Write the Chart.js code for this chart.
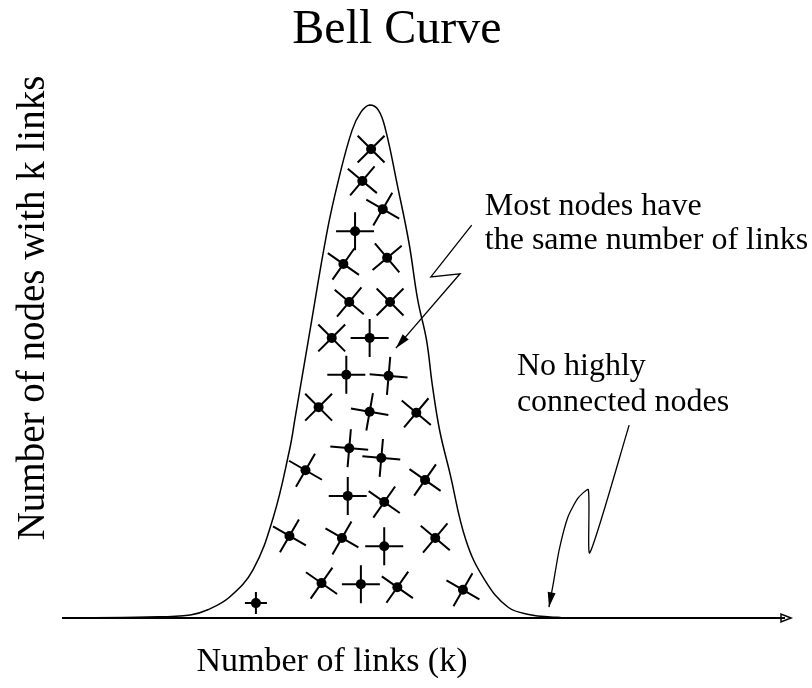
<!DOCTYPE html>
<html>
<head>
<meta charset="utf-8">
<title>Bell Curve</title>
<script src="https://cdn.jsdelivr.net/npm/chart.js@4.4.1/dist/chart.umd.min.js"></script>
<style>
  body { margin: 0; background: #fff; }
  canvas { display: block; }
</style>
</head>
<body>
<canvas id="grafico" width="812" height="688"></canvas>
<script>
// curva (k = numero de links, n = nodos con k links, 0-100)
const curvaK = [0, 5.9, 8.8, 10.0, 11.5, 13.1, 14.5, 15.6, 16.0, 16.9, 18.2, 19.0, 19.9, 20.5, 21.1, 21.7, 22.2, 23.0, 23.8, 24.4, 25.0, 25.4, 25.9, 26.6, 27.7, 29.0, 30.6, 32.2, 33.5, 34.2];
const curvaN = [0, 0.2, 0.6, 1.6, 4.1, 9.4, 19.7, 32.7, 39.2, 54.2, 75.6, 85.8, 95.1, 98.6, 100, 99.0, 95.1, 84.4, 73.1, 62.0, 54.2, 45.4, 36.6, 28.3, 15.2, 7.4, 2.1, 0.6, 0.2, 0.1];

// nodos dentro de la campana
const nodosK = [21.2, 20.6, 22.0, 20.1, 22.3, 19.3, 19.7, 22.5, 18.5, 21.1, 19.5, 22.4, 17.6, 21.1, 24.3, 19.7, 21.9, 16.7, 24.9, 19.6, 22.1, 15.6, 19.2, 22.1, 25.6, 17.8, 20.5, 23.0, 27.5, 13.3];
const nodosN = [91.4, 85.2, 79.7, 75.4, 70.2, 69.0, 61.6, 61.6, 54.6, 54.6, 47.4, 47.2, 41.1, 40.2, 40.0, 33.1, 31.2, 28.8, 26.9, 23.8, 22.6, 16.0, 15.6, 14.0, 15.6, 6.8, 6.6, 6.0, 5.5, 2.9];
const nodosGiro = [45, 40, 30, 0, 50, 35, 40, 45, 45, 0, 0, 5, 45, 10, 40, 5, 5, 30, 35, 0, 35, 30, 30, 0, 40, 35, 0, 35, 30, 0];

// flechas de las notas
const flecha1K = [28.1, 25.3, 27.3, 22.9];
const flecha1N = [76.6, 66.5, 67.1, 52.6];
const flecha2K = [38.9, 36.2, 36.1, 35.4, 34.7, 34.1, 33.7, 33.4];
const flecha2N = [37.6, 12.7, 25.0, 23.4, 19.7, 13.3, 6.8, 2.1];

// textos
const titulo = "Bell Curve";
const tituloX = "Number of links (k)";
const tituloY = "Number of nodes with k links";
const nota1 = ["Most nodes have", "the same number of links"];
const nota1K = 29.0;
const nota1N = [78.6, 71.9];
const nota2 = ["No highly", "connected nodes"];
const nota2K = 31.2;
const nota2N = [47.4, 40.4];

const serif = '"Liberation Serif", "DejaVu Serif", serif';

function puntos(xs, ys){
    return xs.map((x, i) => ({x: x, y: ys[i]}));
}

function punta(ctx, x0, y0, x1, y1, largo, ancho, llena){
    let ang = Math.atan2(y1 - y0, x1 - x0);
    ctx.save();
    ctx.translate(x1, y1);
    ctx.rotate(ang);
    ctx.beginPath();
    ctx.moveTo(0, 0);
    ctx.lineTo(-largo, -ancho);
    ctx.lineTo(-largo, ancho);
    ctx.closePath();
    if(llena){
        ctx.fill();
    }
    else{
        ctx.stroke();
    }
    ctx.restore();
}

const dibujoExtra = {
    id: "dibujoExtra",
    beforeDatasetsDraw(chart){
        let ctx = chart.ctx;
        let sx = chart.scales.x;
        let sy = chart.scales.y;
        let y0 = sy.getPixelForValue(0);
        ctx.save();
        ctx.strokeStyle = "#000";
        ctx.lineWidth = 2;
        ctx.beginPath();
        ctx.moveTo(sx.getPixelForValue(0), y0);
        ctx.lineTo(sx.getPixelForValue(50) - 6, y0);
        ctx.stroke();
        ctx.lineWidth = 1.5;
        punta(ctx, sx.getPixelForValue(49), y0, sx.getPixelForValue(50), y0, 10, 4, false);
        ctx.restore();
    },
    afterDatasetsDraw(chart){
        let ctx = chart.ctx;
        let sx = chart.scales.x;
        let sy = chart.scales.y;
        ctx.save();
        ctx.fillStyle = "#000";

        // puntas de las flechas
        [[flecha1K, flecha1N], [flecha2K, flecha2N]].forEach(([ks, ns]) => {
            let n = ks.length;
            punta(ctx,
                sx.getPixelForValue(ks[n - 2]), sy.getPixelForValue(ns[n - 2]),
                sx.getPixelForValue(ks[n - 1]), sy.getPixelForValue(ns[n - 1]), 15, 4, true);
        });

        // notas
        ctx.font = "32px " + serif;
        ctx.textAlign = "left";
        ctx.textBaseline = "alphabetic";
        nota1.forEach((t, i) => ctx.fillText(t, sx.getPixelForValue(nota1K), sy.getPixelForValue(nota1N[i])));
        nota2.forEach((t, i) => ctx.fillText(t, sx.getPixelForValue(nota2K), sy.getPixelForValue(nota2N[i])));

        // titulo
        ctx.textAlign = "center";
        ctx.font = "48px " + serif;
        ctx.fillText(titulo, 397, 43);

        // eje x
        ctx.font = "34px " + serif;
        ctx.fillText(tituloX, 332, 671);

        // eje y
        ctx.translate(44, 308);
        ctx.rotate(-Math.PI / 2);
        ctx.font = "39px " + serif;
        ctx.fillText(tituloY, 0, 0);
        ctx.restore();
    }
};

const linea = {
    type: "line",
    showLine: true,
    borderColor: "#000",
    pointRadius: 0,
    tension: 0.3,
    clip: false
};

let ctx = document.querySelector("#grafico").getContext("2d");
let grafico = new Chart(ctx, {
    type: "scatter",
    data: {
        datasets: [
            Object.assign({}, linea, {label: "curva", data: puntos(curvaK, curvaN), borderWidth: 1.5, tension: 0.4}),
            Object.assign({}, linea, {label: "nota1", data: puntos(flecha1K, flecha1N), borderWidth: 1.3, tension: 0}),
            Object.assign({}, linea, {label: "nota2", data: puntos(flecha2K, flecha2N), borderWidth: 1.3, tension: 0.2}),
            {
                label: "enlaces",
                data: puntos(nodosK, nodosN),
                pointStyle: "cross",
                pointRotation: nodosGiro,
                pointRadius: nodosK.map((k, i) => i == nodosK.length - 1 ? 11 : 19),
                borderColor: "#000",
                borderWidth: 2,
                clip: false
            },
            {
                label: "nodos",
                data: puntos(nodosK, nodosN),
                pointStyle: "circle",
                pointRadius: 5,
                backgroundColor: "#000",
                borderColor: "#000",
                borderWidth: 0,
                clip: false
            }
        ]
    },
    options: {
        responsive: false,
        animation: false,
        layout: {padding: {left: 62, right: 7, top: 105, bottom: 70}},
        plugins: {
            legend: {display: false},
            tooltip: {enabled: false}
        },
        scales: {
            x: {type: "linear", min: 0, max: 50, display: false},
            y: {type: "linear", min: 0, max: 100, display: false}
        }
    },
    plugins: [dibujoExtra]
});
</script>
</body>
</html>
